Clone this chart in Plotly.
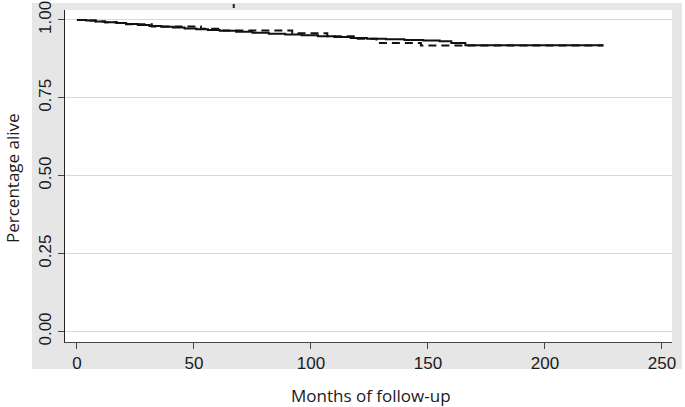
import plotly.graph_objects as go

# Solid curve (group 1)
t_solid = [0, 4, 8, 12, 17, 21, 26, 31, 36, 41, 46, 51, 56, 61, 68, 75, 82, 89, 96, 103, 110, 117, 124, 132, 140, 148, 155, 160, 166, 225]
s_solid = [1.000, 0.998, 0.995, 0.993, 0.990, 0.987, 0.984, 0.981, 0.978, 0.976, 0.973, 0.970, 0.968, 0.965, 0.962, 0.959, 0.956, 0.953, 0.951, 0.948, 0.945, 0.942, 0.940, 0.938, 0.936, 0.934, 0.932, 0.926, 0.919, 0.919]

# Dashed curve (group 2)
t_dash = [0, 4, 8, 12, 17, 21, 32, 53, 62, 92, 107, 120, 128, 147, 225]
s_dash = [1.000, 0.998, 0.995, 0.993, 0.990, 0.986, 0.979, 0.972, 0.966, 0.957, 0.948, 0.940, 0.926, 0.918, 0.918]

x_ticks = [0, 50, 100, 150, 200, 250]
y_ticks = [0.0, 0.25, 0.5, 0.75, 1.0]
y_ticktext = ["0.00", "0.25", "0.50", "0.75", "1.00"]

x_title = "Months of follow-up"
y_title = "Percentage alive"

fig = go.Figure()
fig.add_trace(go.Scatter(x=t_solid, y=s_solid, mode="lines", line=dict(shape="hv", color="#111111", width=2), showlegend=False))
fig.add_trace(go.Scatter(x=t_dash, y=s_dash, mode="lines", line=dict(shape="hv", color="#111111", width=2, dash="8px,5px"), showlegend=False))

tick_font = dict(family="Arial, 'Liberation Sans', sans-serif", size=17, color="#1a1a1a")
title_font = dict(family="'Open Sans', Lato, sans-serif", size=17, color="#1a1a1a")

fig.update_layout(
    width=685, height=407,
    margin=dict(l=65, r=13, t=10, b=65, autoexpand=False),
    paper_bgcolor="white",
    plot_bgcolor="white",
    xaxis=dict(range=[-5.1, 254.3], tickvals=x_ticks, ticks="outside", ticklen=6, tickcolor="#444",
               showline=True, linecolor="#444", linewidth=1, showgrid=False, zeroline=False,
               tickfont=tick_font, automargin=False),
    yaxis=dict(range=[-0.0337, 1.032], tickvals=y_ticks, ticktext=y_ticktext, tickangle=-90,
               ticks="outside", ticklen=6, tickcolor="#444", showline=True, linecolor="#222", linewidth=1,
               showgrid=True, gridcolor="#d9d9d9", gridwidth=1, zeroline=False, tickfont=tick_font,
               ticklabeloverflow="allow", automargin=False),
    shapes=[
        dict(type="rect", xref="paper", yref="paper", x0=-0.0544, x1=1.0165, y0=-0.0813, y1=1.021,
             fillcolor="#e6e6e6", line=dict(width=0), layer="below"),
        dict(type="rect", xref="paper", yref="paper", x0=0, x1=1, y0=0, y1=1,
             fillcolor="white", line=dict(width=0), layer="below"),
        dict(type="line", xref="paper", yref="paper", x0=0.278, x1=0.278, y0=1.006, y1=1.018,
             line=dict(color="#222", width=2)),
    ],
    annotations=[
        dict(text=x_title, xref="paper", yref="paper", x=(371 - 65) / 607, y=(342 - 395) / 332,
             xanchor="center", yanchor="middle", showarrow=False, font=title_font),
        dict(text=y_title, xref="paper", yref="paper", x=(12 - 65) / 607, y=(342 - 178) / 332,
             xanchor="center", yanchor="middle", showarrow=False, textangle=-90, font=title_font),
    ],
)

fig.write_html("out.html", config={"displayModeBar": False},
               post_script="document.body.style.margin='0';")
